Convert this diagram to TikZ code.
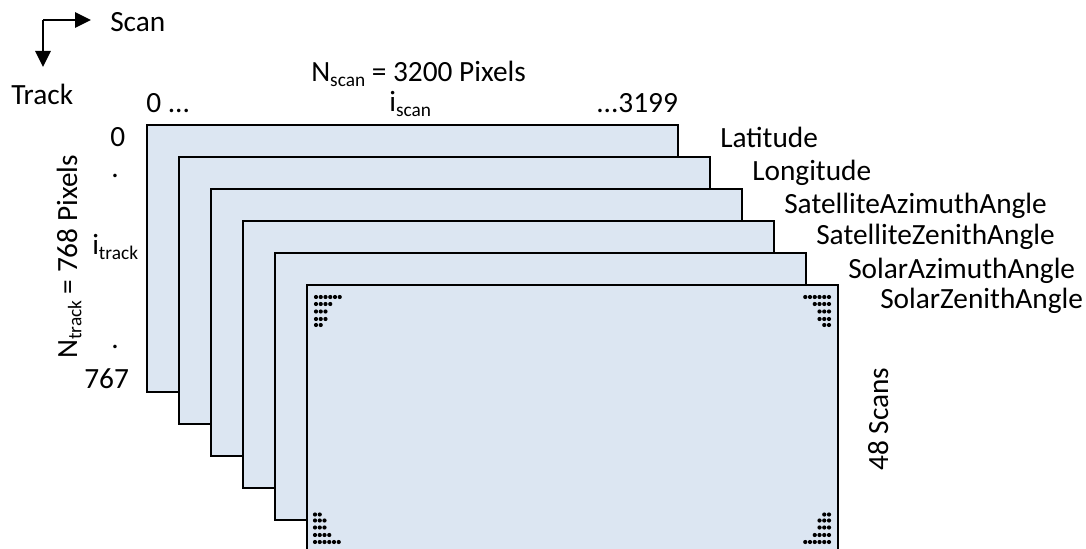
\documentclass[tikz,border=0pt]{standalone}
\usepackage{fontspec}
\setmainfont{Carlito}
\usetikzlibrary{arrows.meta}
\tikzset{
  x=0.75pt,y=-0.75pt,
  sheet/.style={draw=black,line width=1.5pt,fill=sheetblue,rectangle,inner sep=0pt,minimum width=398.25pt,minimum height=199.5pt,anchor=north west},
  lab/.style={font=\fontsize{22}{24}\selectfont,inner sep=0pt,text=black,anchor=base west},
  axis/.style={line width=1.5pt,-{Triangle[length=12pt,width=11.5pt]}}
}
\definecolor{sheetblue}{HTML}{DCE6F2}
\newcommand{\subtxt}[1]{\raisebox{-3.2pt}{\fontsize{14.5}{16}\selectfont #1}}
\newcommand{\dotrow}[4]{% x start, y, count, dir
  \foreach \k in {1,...,#3}{\fill (#1+#4*\k*4.75-#4*4.75,#2) circle[radius=2.1];}}
\begin{document}
\begin{tikzpicture}
\useasboundingbox (0,0) rectangle (1086,549);
\begin{scope}
\clip (0,0) rectangle (1086,549);
\node[sheet] (s1) at (145.5,124.5) {};
\node[sheet] (s2) at (177.5,156.5) {};
\node[sheet] (s3) at (209.5,188.5) {};
\node[sheet] (s4) at (241.5,220.5) {};
\node[sheet] (s5) at (273.5,252.5) {};
\node[sheet] (s6) at (305.5,284.5) {};
\end{scope}
% axes
\coordinate (o) at (43,20);
\node[lab] (scan) at (110,32) {Scan};
\node[lab] (track) at (11,105) {Track};
\coordinate (sa) at (91,20);
\coordinate (ta) at (43,67);
\draw[axis] (o) -- (sa);
\draw[axis] (o) -- (ta);
% top
\node[lab] (nscan) at (311,82) {N\subtxt{scan} = 3200 Pixels};
\node[lab] (z) at (146,113) {0 ...};
\node[lab] (iscan) at (389,112) {i\subtxt{scan}};
\node[lab] (e) at (596,113) {...3199};
% left
\node[lab] (z2) at (110,147) {0};
\node[lab] (d1) at (111,178) {.};
\node[lab] (it) at (92,255) {i\subtxt{track}};
\node[lab] (d2) at (111,348) {.};
\node[lab] (l767) at (84,388) {767};
\node[lab,rotate=90] (nt) at (77,359) {N\subtxt{track} = 768 Pixels};
% names
\node[lab] (n1) at (720,148) {Latitude};
\node[lab] (n2) at (752,181) {Longitude};
\node[lab] (n3) at (784,214) {SatelliteAzimuthAngle};
\node[lab] (n4) at (816,245) {SatelliteZenithAngle};
\node[lab] (n5) at (848,278) {SolarAzimuthAngle};
\node[lab] (n6) at (880,309) {SolarZenithAngle};
\node[lab,rotate=90] (sc) at (888,471) {48 Scans};
% dots
\dotrow{316}{297}{6}{1}\dotrow{316}{304}{4}{1}\dotrow{316}{311.5}{3}{1}\dotrow{316}{319}{3}{1}\dotrow{316}{325}{2}{1}
\dotrow{829}{297}{6}{-1}\dotrow{829}{304}{4}{-1}\dotrow{829}{311.5}{3}{-1}\dotrow{829}{319}{3}{-1}\dotrow{829}{325}{2}{-1}
\dotrow{315}{514.5}{2}{1}\dotrow{315}{520.5}{3}{1}\dotrow{315}{527.5}{3}{1}\dotrow{315}{535}{4}{1}\dotrow{315}{542}{6}{1}
\dotrow{829}{514.5}{2}{-1}\dotrow{829}{520.5}{3}{-1}\dotrow{829}{527.5}{3}{-1}\dotrow{829}{535}{4}{-1}\dotrow{829}{542}{6}{-1}
\end{tikzpicture}
\end{document}
